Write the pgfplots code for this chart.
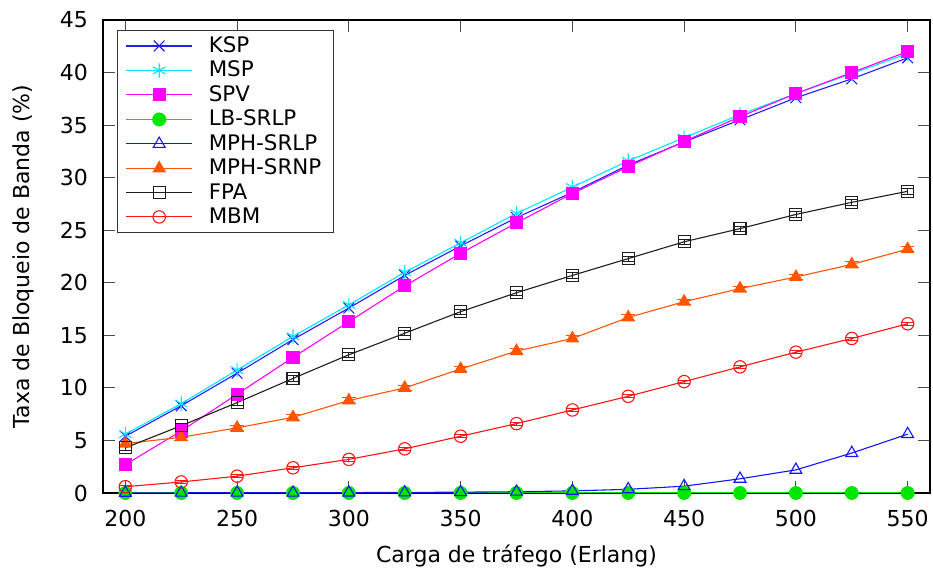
\documentclass[border=0pt]{standalone}
\usepackage{pgfplots}
\pgfplotsset{compat=1.18}
\usepackage{fontspec}
\setmainfont{DejaVu Sans}
\definecolor{cksp}{RGB}{30,30,255}
\definecolor{cmsp}{RGB}{0,230,255}
\definecolor{cspv}{RGB}{255,0,255}
\definecolor{clb}{RGB}{0,230,0}
\definecolor{cmphl}{RGB}{20,20,255}
\definecolor{cmphn}{RGB}{255,85,0}
\definecolor{cfpa}{RGB}{30,30,30}
\definecolor{cmbm}{RGB}{255,20,20}
\begin{document}
\begin{tikzpicture}
\begin{axis}[
  scale only axis,
  width=413.5pt, height=236.5pt,
  xmin=190, xmax=560, ymin=0, ymax=45,
  xtick={200,250,...,550},
  ytick={0,5,...,45},
  tick align=inside,
  major tick length=6pt,
  tick style={line width=0.5pt, color=black!70},
  axis line style={line width=0.6pt},
  font=\fontsize{11}{13}\selectfont,
  /pgf/number format/assume math mode=true,
  xticklabel style={yshift=-5pt},
  yticklabel style={xshift=-4pt},
  xlabel={Carga de tráfego (Erlang)},
  ylabel={Taxa de Bloqueio de Banda (\%)},
  xlabel style={yshift=-2pt},
  ylabel style={yshift=6pt},
  legend style={at={(rel axis cs:0.017,0.979)}, anchor=north west,
    draw=black!80, line width=0.6pt, font=\fontsize{10.7}{12.3}\selectfont,
    row sep=-1.2pt, inner xsep=4pt, inner ysep=1pt},
  legend cell align=left,
  /tikz/every odd column/.append style={column sep=6pt},
  legend image code/.code={%
    \draw[mark repeat=2,mark phase=2] plot coordinates {(0pt,0pt) (16.5pt,0pt) (33pt,0pt)};},
  every axis plot/.append style={line width=0.55pt},
]
\addplot[color=cksp, mark=x, mark size=3.8pt] coordinates {
(200,5.4)(225,8.3)(250,11.4)(275,14.6)(300,17.6)(325,20.7)(350,23.5)(375,26.2)(400,28.6)(425,31.2)(450,33.4)(475,35.5)(500,37.6)(525,39.4)(550,41.4)};
\addlegendentry{KSP}
\addplot[color=cmsp, mark=asterisk, mark size=3.6pt] coordinates {
(200,5.6)(225,8.5)(250,11.7)(275,14.9)(300,17.9)(325,21.0)(350,23.8)(375,26.6)(400,29.1)(425,31.6)(450,33.8)(475,36.0)(500,38.0)(525,39.9)(550,41.8)};
\addlegendentry{MSP}
\addplot[color=cspv, mark=square*, mark size=3pt] coordinates {
(200,2.7)(225,5.9)(250,9.4)(275,12.9)(300,16.3)(325,19.7)(350,22.8)(375,25.7)(400,28.5)(425,31.05)(450,33.45)(475,35.8)(500,38.0)(525,40.0)(550,42.0)};
\addlegendentry{SPV}
\addplot[color=clb, mark=*, mark size=3.2pt] coordinates {
(200,0)(225,0)(250,0)(275,0)(300,0)(325,0)(350,0)(375,0)(400,0)(425,0)(450,0)(475,0)(500,0)(525,0)(550,0)};
\addlegendentry{LB-SRLP}
\addplot[color=cmphl, mark=triangle, mark size=3.4pt] coordinates {
(200,0.01)(225,0.02)(250,0.02)(275,0.03)(300,0.04)(325,0.05)(350,0.08)(375,0.12)(400,0.2)(425,0.35)(450,0.65)(475,1.35)(500,2.2)(525,3.8)(550,5.6)};
\addlegendentry{MPH-SRLP}
\addplot[color=cmphn, mark=triangle*, mark size=3.4pt,
  error bars/.cd, y dir=both, y fixed=0.25, error bar style={line width=0.4pt}] coordinates {
(200,4.7)(225,5.3)(250,6.2)(275,7.2)(300,8.8)(325,10.0)(350,11.8)(375,13.5)(400,14.7)(425,16.7)(450,18.2)(475,19.45)(500,20.55)(525,21.75)(550,23.2)};
\addlegendentry{MPH-SRNP}
\addplot[color=cfpa, mark=square, mark size=3pt,
  error bars/.cd, y dir=both, y fixed=0.25, error bar style={line width=0.4pt}] coordinates {
(200,4.3)(225,6.4)(250,8.6)(275,10.9)(300,13.15)(325,15.2)(350,17.25)(375,19.05)(400,20.7)(425,22.3)(450,23.9)(475,25.15)(500,26.5)(525,27.65)(550,28.7)};
\addlegendentry{FPA}
\addplot[color=cmbm, mark=o, mark size=3.1pt,
  error bars/.cd, y dir=both, y fixed=0.15, error bar style={line width=0.4pt}] coordinates {
(200,0.6)(225,1.05)(250,1.6)(275,2.4)(300,3.2)(325,4.2)(350,5.4)(375,6.6)(400,7.9)(425,9.2)(450,10.6)(475,12.0)(500,13.4)(525,14.7)(550,16.1)};
\addlegendentry{MBM}
\end{axis}
\pgfresetboundingbox
\path (current axis.south west) ++(-51.5pt,-38.5pt) coordinate (bl);
\path (current axis.north east) ++(1.5pt,10pt) coordinate (tr);
\path[use as bounding box] (bl) rectangle (tr);
\end{tikzpicture}
\end{document}
